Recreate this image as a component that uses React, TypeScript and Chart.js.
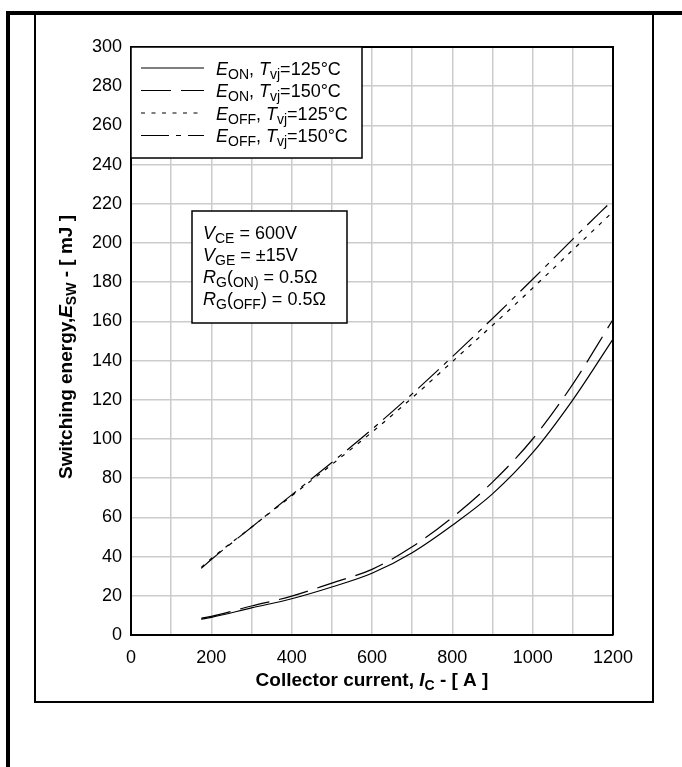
import React, { useEffect, useRef } from 'react';
import { Chart, registerables } from 'chart.js';
Chart.register(...registerables);

const currents = [175, 200, 300, 400, 500, 600, 700, 800, 900, 1000, 1100, 1200];
const eOn125 = [8, 9, 13.8, 18.5, 24.5, 31.5, 42, 56, 72, 93, 120, 151];
const eOn150 = [8.5, 9.5, 14.8, 19.8, 26.5, 33.5, 45, 60, 78, 100, 128, 161];
const eOff125 = [34.5, 39, 55, 71, 87, 103.5, 121, 139.5, 158, 177, 196.5, 216];
const eOff150 = [34, 38.5, 55, 71.5, 88, 105, 123, 142, 161.5, 181.5, 202, 222];

const xMin = 0, xMax = 1200, xStep = 100, xLabelEvery = 200;
const yMin = 0, yMax = 300, yStep = 20;

type Seg = { t: string; i?: boolean; s?: boolean };

const legendRows: Seg[][] = [
  [{ t: 'E', i: true }, { t: 'ON', s: true }, { t: ', ' }, { t: 'T', i: true }, { t: 'vj', s: true }, { t: '=125°C' }],
  [{ t: 'E', i: true }, { t: 'ON', s: true }, { t: ', ' }, { t: 'T', i: true }, { t: 'vj', s: true }, { t: '=150°C' }],
  [{ t: 'E', i: true }, { t: 'OFF', s: true }, { t: ', ' }, { t: 'T', i: true }, { t: 'vj', s: true }, { t: '=125°C' }],
  [{ t: 'E', i: true }, { t: 'OFF', s: true }, { t: ', ' }, { t: 'T', i: true }, { t: 'vj', s: true }, { t: '=150°C' }],
];

const noteRows: Seg[][] = [
  [{ t: 'V', i: true }, { t: 'CE', s: true }, { t: ' = 600V' }],
  [{ t: 'V', i: true }, { t: 'GE', s: true }, { t: ' = ±15V' }],
  [{ t: 'R', i: true }, { t: 'G', s: true }, { t: '(' }, { t: 'ON)', s: true }, { t: ' = 0.5Ω' }],
  [{ t: 'R', i: true }, { t: 'G', s: true }, { t: '(' }, { t: 'OFF', s: true }, { t: ')' }, { t: ' = 0.5Ω' }],
];

const xTitle: Seg[] = [{ t: 'Collector current, ' }, { t: 'I', i: true }, { t: 'C', s: true }, { t: ' - [ A ]' }];
const yTitle: Seg[] = [{ t: 'Switching energy,' }, { t: 'E', i: true }, { t: 'SW', s: true }, { t: ' - [ mJ ]' }];

const FAMILY = '"Liberation Sans", Arial, Helvetica, sans-serif';
const BASE = 18;
const SUB = 14;

function segFont(seg: Seg, bold: boolean, base: number, sub: number) {
  const size = seg.s ? sub : base;
  return `${seg.i ? 'italic ' : ''}${bold ? 'bold ' : ''}${size}px ${FAMILY}`;
}
function richWidth(ctx: CanvasRenderingContext2D, segs: Seg[], bold: boolean, base = BASE, sub = SUB) {
  let w = 0;
  for (const s of segs) {
    ctx.font = segFont(s, bold, base, sub);
    w += ctx.measureText(s.t).width;
  }
  return w;
}
function drawRich(ctx: CanvasRenderingContext2D, segs: Seg[], x: number, baseline: number, bold: boolean, base = BASE, sub = SUB) {
  let cx = x;
  ctx.textAlign = 'left';
  ctx.textBaseline = 'alphabetic';
  ctx.fillStyle = '#000';
  for (const s of segs) {
    ctx.font = segFont(s, bold, base, sub);
    ctx.fillText(s.t, cx, baseline + (s.s ? 4 : 0));
    cx += ctx.measureText(s.t).width;
  }
}

const dashes: number[][] = [[], [30, 10], [4, 6.5], [28, 7, 5, 7]];

const decorPlugin = {
  id: 'decor',
  afterDatasetsDraw(chart: any) {
    const ctx: CanvasRenderingContext2D = chart.ctx;
    const a = chart.chartArea;
    ctx.save();
    ctx.strokeStyle = '#000';
    ctx.lineWidth = 2;
    ctx.beginPath();
    ctx.moveTo(a.left, a.top);
    ctx.lineTo(a.right, a.top);
    ctx.lineTo(a.right, a.bottom);
    ctx.stroke();

    const lx = a.left, ly = a.top, lw = 231, lh = 111;
    ctx.fillStyle = '#fff';
    ctx.fillRect(lx, ly, lw, lh);
    ctx.lineWidth = 1.5;
    ctx.strokeRect(lx, ly, lw, lh);
    legendRows.forEach((row, k) => {
      const cy = ly + 21 + k * 22.5;
      ctx.save();
      ctx.strokeStyle = '#000';
      ctx.lineWidth = 1.2;
      ctx.setLineDash(dashes[k]);
      ctx.beginPath();
      ctx.moveTo(lx + 10, cy);
      ctx.lineTo(lx + 73, cy);
      ctx.stroke();
      ctx.restore();
      drawRich(ctx, row, lx + 85, cy + 6.5, false);
    });

    const nx = 192, ny = 211, nw = 155, nh = 112;
    ctx.fillStyle = '#fff';
    ctx.fillRect(nx, ny, nw, nh);
    ctx.lineWidth = 1.5;
    ctx.strokeStyle = '#000';
    ctx.strokeRect(nx, ny, nw, nh);
    noteRows.forEach((row, k) => {
      drawRich(ctx, row, nx + 11, ny + 28 + k * 22, false);
    });
    ctx.restore();
  },
  afterDraw(chart: any) {
    const ctx: CanvasRenderingContext2D = chart.ctx;
    const a = chart.chartArea;
    ctx.save();
    const wx = richWidth(ctx, xTitle, true, 19, 14);
    drawRich(ctx, xTitle, (a.left + a.right) / 2 - wx / 2, 686, true, 19, 14);
    const wy = richWidth(ctx, yTitle, true, 19, 14);
    ctx.save();
    ctx.translate(65, 347);
    ctx.rotate(-Math.PI / 2);
    drawRich(ctx, yTitle, -wy / 2, 6.5, true, 19, 14);
    ctx.restore();
    ctx.fillStyle = '#000';
    ctx.fillRect(6, 11, 682 - 6, 4);
    ctx.fillRect(6, 11, 4, 767 - 11);
    ctx.strokeStyle = '#000';
    ctx.lineWidth = 2;
    ctx.strokeRect(35, 14, 618, 688);
    ctx.restore();
  },
};

export default function App() {
  const ref = useRef<HTMLCanvasElement | null>(null);
  useEffect(() => {
    document.body.style.margin = '0';
    const canvas = ref.current!;
    const mk = (data: number[], k: number) => ({
      data: currents.map((x, i) => ({ x, y: data[i] })),
      borderColor: '#000',
      borderWidth: 1.2,
      borderDash: dashes[k],
      pointRadius: 0,
      fill: false,
      cubicInterpolationMode: 'monotone' as const,
    });
    const tickFont = { family: FAMILY, size: BASE };
    const chart = new Chart(canvas, {
      type: 'line',
      data: {
        datasets: [mk(eOn125, 0), mk(eOn150, 1), mk(eOff125, 2), mk(eOff150, 3)],
      },
      options: {
        responsive: false,
        animation: false,
        devicePixelRatio: 1,
        layout: { padding: { left: 0, top: 47, right: 69, bottom: 92 } },
        plugins: { legend: { display: false }, tooltip: { enabled: false } },
        scales: {
          x: {
            type: 'linear',
            min: xMin,
            max: xMax,
            ticks: {
              stepSize: xStep,
              autoSkip: false,
              maxRotation: 0,
              padding: 12,
              color: '#000',
              font: tickFont,
              callback: (v: any) => (Number(v) % xLabelEvery === 0 ? String(v) : ''),
            },
            grid: { color: '#cccccc', lineWidth: 1.5, drawTicks: false },
            border: { color: '#000', width: 2 },
            afterFit: (s: any) => { s.height = 40; },
          },
          y: {
            type: 'linear',
            min: yMin,
            max: yMax,
            ticks: { stepSize: yStep, padding: 9, color: '#000', font: tickFont },
            grid: { color: '#cccccc', lineWidth: 1.5, drawTicks: false },
            border: { color: '#000', width: 2 },
            afterFit: (s: any) => { s.width = 131; },
          },
        },
      },
      plugins: [decorPlugin],
    } as any);
    return () => chart.destroy();
  }, []);
  return <canvas ref={ref} width={682} height={767} style={{ display: 'block' }} />;
}
